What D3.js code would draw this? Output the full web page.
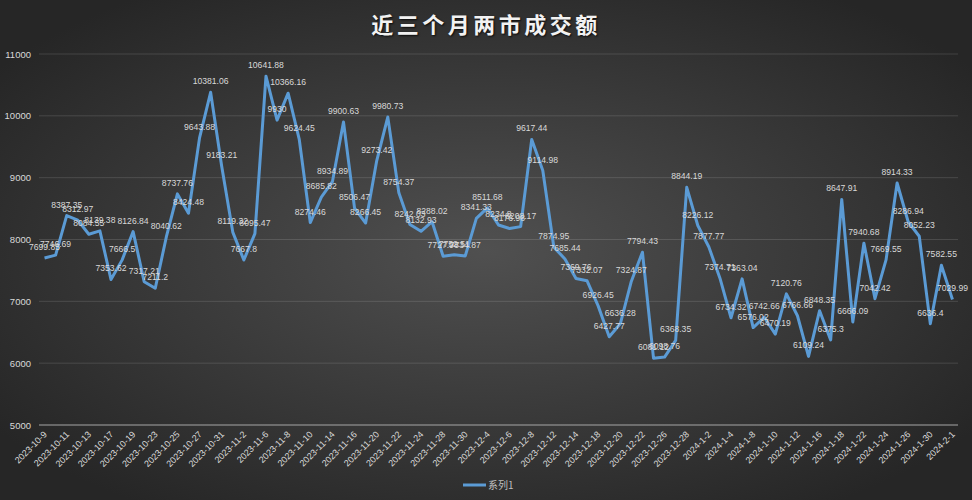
<!DOCTYPE html>
<html><head><meta charset="utf-8">
<script src="https://cdn.jsdelivr.net/npm/d3@7"></script>
<style>html,body{margin:0;padding:0;background:#333;}svg{display:block;}</style>
</head><body>
<svg id="chart" width="972" height="500"></svg>
<script>
const title = "近三个月两市成交额";
const seriesName = "系列1";
const dates = ["2023-10-9","2023-10-10","2023-10-11","2023-10-12","2023-10-13","2023-10-16","2023-10-17","2023-10-18","2023-10-19","2023-10-20","2023-10-23","2023-10-24","2023-10-25","2023-10-26","2023-10-27","2023-10-30","2023-10-31",
"2023-11-1","2023-11-2","2023-11-3","2023-11-6","2023-11-7","2023-11-8","2023-11-9","2023-11-10","2023-11-13","2023-11-14","2023-11-15","2023-11-16","2023-11-17","2023-11-20","2023-11-21","2023-11-22","2023-11-23","2023-11-24","2023-11-27","2023-11-28","2023-11-29","2023-11-30",
"2023-12-1","2023-12-4","2023-12-5","2023-12-6","2023-12-7","2023-12-8","2023-12-11","2023-12-12","2023-12-13","2023-12-14","2023-12-15","2023-12-18","2023-12-19","2023-12-20","2023-12-21","2023-12-22","2023-12-25","2023-12-26","2023-12-27","2023-12-28","2023-12-29",
"2024-1-2","2024-1-3","2024-1-4","2024-1-5","2024-1-8","2024-1-9","2024-1-10","2024-1-11","2024-1-12","2024-1-15","2024-1-16","2024-1-17","2024-1-18","2024-1-19","2024-1-22","2024-1-23","2024-1-24","2024-1-25","2024-1-26","2024-1-29","2024-1-30","2024-1-31","2024-2-1"];
const values = [7699.85,7746.69,8387.35,8312.97,8084.55,8139.38,7353.62,7666.5,8126.84,7317.21,7211.2,8040.62,8737.76,8424.48,9643.88,10381.06,9183.21,
8119.32,7667.8,8095.47,10641.88,9930,10366.16,9624.45,8274.46,8685.82,8934.89,9900.63,8506.47,8266.45,9273.42,9980.73,8754.37,8242.03,8132.93,8288.02,7727.98,7752.51,7734.87,
8341.33,8511.68,8234.8,8176.98,8208.17,9617.44,9114.98,7874.95,7685.44,7369.76,7332.07,6926.45,6427.77,6636.28,7324.87,7794.43,6081.12,6098.76,6368.35,8844.19,8226.12,
7877.77,7374.71,6734.32,7363.04,6576.02,6742.66,6470.19,7120.76,6766.66,6109.24,6848.35,6375.3,8647.91,6666.09,7940.68,7042.42,7669.55,8914.33,8286.94,8052.23,6636.4,7582.55,7029.99];
const yTicks = [5000,6000,7000,8000,9000,10000,11000];

const W = 972, H = 500;
const plot = {left: 39, right: 958, top: 54, bottom: 425};
const svg = d3.select("#chart");
const defs = svg.append("defs");
const rg = defs.append("radialGradient").attr("id","bg").attr("cx","50%").attr("cy","50%").attr("r","62%");
rg.append("stop").attr("offset","0%").attr("stop-color","#505050");
rg.append("stop").attr("offset","100%").attr("stop-color","#262626");
svg.append("rect").attr("width",W).attr("height",H).attr("fill","url(#bg)");

const x = d3.scaleBand().domain(dates).range([plot.left, plot.right]);
const cx = d => x(d) + x.bandwidth()/2;
const y = d3.scaleLinear().domain([5000,11000]).range([plot.bottom, plot.top]);

// gridlines
svg.append("g").selectAll("line").data(yTicks.filter(t=>t>5000)).join("line")
  .attr("x1",plot.left).attr("x2",plot.right).attr("y1",d=>y(d)).attr("y2",d=>y(d))
  .attr("stroke","rgba(255,255,255,0.13)").attr("stroke-width",1);
// axis line
svg.append("line").attr("x1",plot.left).attr("x2",plot.right).attr("y1",y(5000)).attr("y2",y(5000))
  .attr("stroke","#a6a6a6").attr("stroke-width",1.2);

// y labels
const yAxis = d3.axisLeft(y).tickValues(yTicks).tickSize(0).tickPadding(8).tickFormat(d3.format("d"));
const gy = svg.append("g").attr("transform",`translate(${plot.left},0)`).call(yAxis);
gy.select(".domain").remove();
gy.selectAll("text").attr("fill","#d9d9d9").attr("font-family","Liberation Sans, Arial, sans-serif").attr("font-size","9.5px");

// x labels
const xAxis = d3.axisBottom(x).tickValues(dates.filter((d,i)=>i%2===0)).tickSize(0).tickPadding(0);
const gx = svg.append("g").attr("transform",`translate(0,${plot.bottom})`).call(xAxis);
gx.select(".domain").remove();
gx.selectAll("text").attr("fill","#d9d9d9").attr("font-family","Liberation Sans, Arial, sans-serif").attr("font-size","9px")
  .attr("text-anchor","end").attr("dy",null).attr("y",0)
  .attr("transform","translate(3,10) rotate(-45)");

// line
const line = d3.line().x((d,i)=>cx(dates[i])).y(d=>y(d));
svg.append("path").datum(values).attr("d",line).attr("fill","none")
  .attr("stroke","#5b9bd5").attr("stroke-width",3).attr("stroke-linejoin","round");

// data labels
svg.append("g").selectAll("text").data(values).join("text")
  .attr("x",(d,i)=>cx(dates[i])).attr("y",d=>y(d)-8)
  .attr("text-anchor","middle").attr("fill","#d9d9d9")
  .attr("font-family","Liberation Sans, Arial, sans-serif").attr("font-size","8.6px")
  .text(d=>d);

// title
svg.append("text").attr("x",486).attr("y",33).attr("text-anchor","middle")
  .attr("font-family","Noto Sans CJK SC, sans-serif").attr("font-size","22px").attr("font-weight","bold")
  .attr("letter-spacing","3.5px").attr("fill","#f2f2f2")
  .style("text-shadow","1px 1px 2px rgba(0,0,0,0.8)")
  .text(title);

// legend
svg.append("line").attr("x1",463).attr("x2",486).attr("y1",485).attr("y2",485).attr("stroke","#5b9bd5").attr("stroke-width",3);
svg.append("text").attr("x",488).attr("y",489).attr("fill","#bfbfbf")
  .attr("font-family","Noto Sans CJK SC, sans-serif").attr("font-size","10px").text(seriesName);
</script>
</body></html>
